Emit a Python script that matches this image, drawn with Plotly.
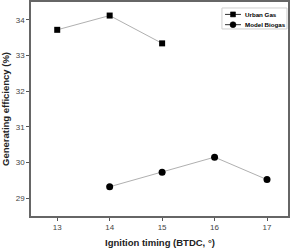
import plotly.graph_objects as go

urban_x = [13, 14, 15]
urban_y = [33.72, 34.12, 33.34]
biogas_x = [14, 15, 16, 17]
biogas_y = [29.32, 29.73, 30.15, 29.52]
x_ticks = [13, 14, 15, 16, 17]
y_ticks = [29, 30, 31, 32, 33, 34]
series_names = ["Urban Gas", "Model Biogas"]
series_symbols = ["square", "circle"]

fig = go.Figure()
fig.add_trace(go.Scatter(x=urban_x, y=urban_y, mode="lines+markers", name=series_names[0],
                         line=dict(color="#b0b0b0", width=1), showlegend=False,
                         marker=dict(symbol="square", size=6, color="black")))
fig.add_trace(go.Scatter(x=biogas_x, y=biogas_y, mode="lines+markers", name=series_names[1],
                         line=dict(color="#b0b0b0", width=1), showlegend=False,
                         marker=dict(symbol="circle", size=7, color="black")))

# compact legend (plot area: 257 x 214 px)
PW, PH = 257.0, 214.0
shapes = [dict(type="rect", xref="paper", yref="paper", x0=0.743, x1=0.996, y0=0.874, y1=0.972,
               line=dict(color="#cfcfcf", width=1), fillcolor="white", layer="above")]
annotations = []
item_y = [0.942, 0.894]
for name, sym, yy in zip(series_names, series_symbols, item_y):
    shapes.append(dict(type="line", xref="paper", yref="paper", x0=0.755, x1=0.817, y0=yy, y1=yy,
                       line=dict(color="#333", width=1), layer="above"))
    r = 2.5 if sym == "square" else 3.0
    shapes.append(dict(type="rect" if sym == "square" else "circle", xref="paper", yref="paper",
                       x0=0.786 - r / PW, x1=0.786 + r / PW, y0=yy - r / PH, y1=yy + r / PH,
                       line=dict(color="black", width=0.5), fillcolor="black", layer="above"))
    annotations.append(dict(xref="paper", yref="paper", x=0.823, y=yy, xanchor="left", yanchor="middle",
                            text="<b>" + name + "</b>", showarrow=False,
                            font=dict(size=6.2, color="black", family="Liberation Sans, Arial")))

# x-axis title placed low, near the bottom edge as in the reference
annotations.append(dict(xref="paper", yref="paper", x=0.5, y=-0.157, xanchor="center",
                        yanchor="bottom", showarrow=False,
                        text="<b>Ignition timing (BTDC, °)</b>",
                        font=dict(size=9.5, color="#222", family="Liberation Sans, Arial")))

fig.update_layout(
    width=297, height=250,
    margin=dict(l=31, r=9, t=2, b=34),
    paper_bgcolor="white", plot_bgcolor="white",
    font=dict(family="Liberation Sans, Arial", color="#333"),
    showlegend=False,
    shapes=shapes, annotations=annotations,
    xaxis=dict(range=[12.5, 17.4], tickvals=x_ticks, ticks="outside", ticklen=3,
               tickcolor="#555", tickfont=dict(size=8, color="#444"),
               showgrid=False, zeroline=False, showline=True, linecolor="#666",
               linewidth=1.5, mirror=True, automargin=False),
    yaxis=dict(range=[28.5, 34.5], tickvals=y_ticks, ticks="outside", ticklen=3,
               tickcolor="#555", tickfont=dict(size=8, color="#444"),
               showgrid=False, zeroline=False, showline=True, linecolor="#666",
               linewidth=1.5, mirror=True, automargin=False,
               title=dict(text="<b>Generating efficiency (%)</b>",
                          font=dict(size=9.5, color="#222"), standoff=5)),
)

fig.write_html("out.html")
